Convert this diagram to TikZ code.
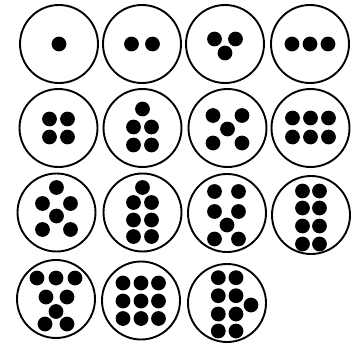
\documentclass[tikz,border=0pt]{standalone}
\usepackage{tikz}

\tikzset{
  ring/.style={draw=black, line width=1.9pt},
  dot/.style={fill=black}
}
\newcommand{\rr}{39}
\newcommand{\dr}{7.4}

\begin{document}
\begin{tikzpicture}[x=1pt,y=-1pt]
		\useasboundingbox (0,0) rectangle (357,343);
		
		% Fila 1
		\begin{scope}[shift={(59,44)}]
			\draw[ring] (0,0) circle (\rr);
			\fill[dot] (0,0) circle (\dr);
		\end{scope}
		\begin{scope}[shift={(142,44)}]
			\draw[ring] (0,0) circle (\rr);
			\fill[dot] (-10.5,0) circle (\dr);
			\fill[dot] (10.5,0) circle (\dr);
		\end{scope}
		\begin{scope}[shift={(225,44)}]
			\draw[ring] (0,0) circle (\rr);
			\fill[dot] (-10.5,-5) circle (\dr);
			\fill[dot] (10.5,-5) circle (\dr);
			\fill[dot] (0,9) circle (\dr);
		\end{scope}
		\begin{scope}[shift={(310,44)}]
			\draw[ring] (0,0) circle (\rr);
			\fill[dot] (-18,0) circle (\dr);
			\fill[dot] (0,0) circle (\dr);
			\fill[dot] (18,0) circle (\dr);
		\end{scope}
		
		% Fila 2
		\begin{scope}[shift={(58.5,128)}]
			\draw[ring] (0,0) circle (\rr);
			\fill[dot] (-9,-9) circle (\dr);
			\fill[dot] (9,-9) circle (\dr);
			\fill[dot] (-9,9) circle (\dr);
			\fill[dot] (9,9) circle (\dr);
		\end{scope}
		\begin{scope}[shift={(142.5,128)}]
			\draw[ring] (0,0) circle (\rr);
			\fill[dot] (0,-19) circle (\dr);
			\fill[dot] (-9,-1) circle (\dr);
			\fill[dot] (9,-1) circle (\dr);
			\fill[dot] (-9,17) circle (\dr);
			\fill[dot] (9,17) circle (\dr);
		\end{scope}
		\begin{scope}[shift={(227.5,128)}]
			\draw[ring] (0,0) circle (\rr);
			\fill[dot] (-14.5,-12.5) circle (\dr);
			\fill[dot] (14.5,-12.5) circle (\dr);
			\fill[dot] (0,1) circle (\dr);
			\fill[dot] (-14.5,15) circle (\dr);
			\fill[dot] (14.5,15) circle (\dr);
		\end{scope}
		\begin{scope}[shift={(310.5,128)}]
			\draw[ring] (0,0) circle (\rr);
			\fill[dot] (-18,-10) circle (\dr);
			\fill[dot] (0,-10) circle (\dr);
			\fill[dot] (18,-10) circle (\dr);
			\fill[dot] (-18,9) circle (\dr);
			\fill[dot] (0,9) circle (\dr);
			\fill[dot] (18,9) circle (\dr);
		\end{scope}
		
		% Fila 3
		\begin{scope}[shift={(56.5,212.5)}]
			\draw[ring] (0,0) circle (\rr);
			\fill[dot] (0,-25) circle (\dr);
			\fill[dot] (-14,-9) circle (\dr);
			\fill[dot] (14,-9) circle (\dr);
			\fill[dot] (0,3.5) circle (\dr);
			\fill[dot] (-14,17) circle (\dr);
			\fill[dot] (14,17) circle (\dr);
		\end{scope}
		\begin{scope}[shift={(142.5,212.5)}]
			\draw[ring] (0,0) circle (\rr);
			\fill[dot] (0,-25) circle (\dr);
			\fill[dot] (-9,-10) circle (\dr);
			\fill[dot] (9,-10) circle (\dr);
			\fill[dot] (-9,7.5) circle (\dr);
			\fill[dot] (9,7.5) circle (\dr);
			\fill[dot] (-9,24) circle (\dr);
			\fill[dot] (9,24) circle (\dr);
		\end{scope}
		\begin{scope}[shift={(227,213)}]
			\draw[ring] (0,0) circle (\rr);
			\fill[dot] (-12.5,-21.5) circle (\dr);
			\fill[dot] (11.5,-21.5) circle (\dr);
			\fill[dot] (-12.5,-1.5) circle (\dr);
			\fill[dot] (11.5,-1.5) circle (\dr);
			\fill[dot] (0,12) circle (\dr);
			\fill[dot] (-12.5,26) circle (\dr);
			\fill[dot] (11.5,26) circle (\dr);
		\end{scope}
		\begin{scope}[shift={(311,215)}]
			\draw[ring] (0,0) circle (\rr);
			\fill[dot] (-8.5,-24) circle (\dr);
			\fill[dot] (8.5,-24) circle (\dr);
			\fill[dot] (-8.5,-7) circle (\dr);
			\fill[dot] (8.5,-7) circle (\dr);
			\fill[dot] (-8.5,11) circle (\dr);
			\fill[dot] (8.5,11) circle (\dr);
			\fill[dot] (-8.5,29) circle (\dr);
			\fill[dot] (8.5,29) circle (\dr);
		\end{scope}
		
		% Fila 4
		\begin{scope}[shift={(56,299)}]
			\draw[ring] (0,0) circle (\rr);
			\fill[dot] (-19,-21) circle (\dr);
			\fill[dot] (0,-21) circle (\dr);
			\fill[dot] (19,-21) circle (\dr);
			\fill[dot] (-10,-2) circle (\dr);
			\fill[dot] (11,-2) circle (\dr);
			\fill[dot] (0,12.5) circle (\dr);
			\fill[dot] (-11,25) circle (\dr);
			\fill[dot] (11,25) circle (\dr);
		\end{scope}
		\begin{scope}[shift={(141,300.5)}]
			\draw[ring] (0,0) circle (\rr);
			\fill[dot] (-18,-17.5) circle (\dr);
			\fill[dot] (0,-17.5) circle (\dr);
			\fill[dot] (17.5,-17.5) circle (\dr);
			\fill[dot] (-18,0.5) circle (\dr);
			\fill[dot] (0,0.5) circle (\dr);
			\fill[dot] (17.5,0.5) circle (\dr);
			\fill[dot] (-18,18) circle (\dr);
			\fill[dot] (0,18) circle (\dr);
			\fill[dot] (17.5,18) circle (\dr);
		\end{scope}
		\begin{scope}[shift={(227,303)}]
			\draw[ring] (0,0) circle (\rr);
			\fill[dot] (-8.7,-25.3) circle (\dr);
			\fill[dot] (9,-25.3) circle (\dr);
			\fill[dot] (-8.7,-7.3) circle (\dr);
			\fill[dot] (9,-7.3) circle (\dr);
			\fill[dot] (-8.7,11) circle (\dr);
			\fill[dot] (9,11) circle (\dr);
			\fill[dot] (-8.7,28) circle (\dr);
			\fill[dot] (9,28) circle (\dr);
			\fill[dot] (24,2) circle (\dr);
		\end{scope}
	\end{tikzpicture}
\end{document}
